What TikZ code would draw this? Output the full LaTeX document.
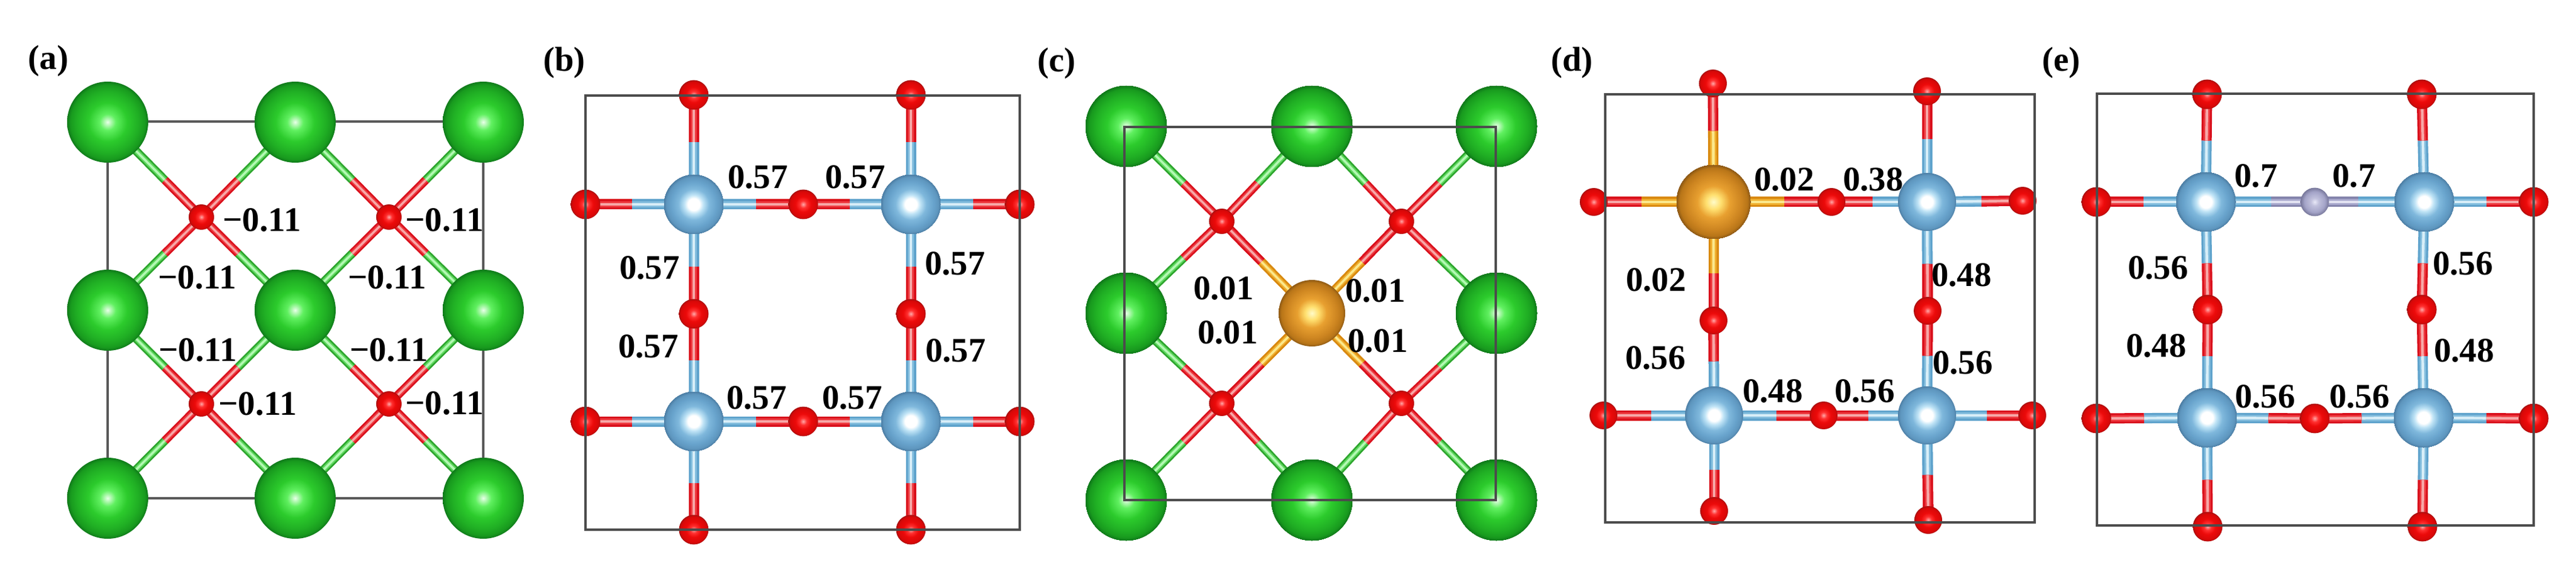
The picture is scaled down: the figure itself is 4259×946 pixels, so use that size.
\documentclass[tikz,border=0pt]{standalone}
\usepackage{fontspec}
\setmainfont{Liberation Serif}
\usetikzlibrary{calc}
\pgfdeclarelayer{bondlayer}
\pgfsetlayers{bondlayer,main}
\definecolor{gD}{HTML}{2DA52D}\definecolor{gM}{HTML}{5FD85F}\definecolor{gL}{HTML}{B4F8B4}
\definecolor{rD}{HTML}{D9101C}\definecolor{rM}{HTML}{EE3A40}\definecolor{rL}{HTML}{F7A8A8}
\definecolor{bD}{HTML}{5FA3CC}\definecolor{bM}{HTML}{84BEDE}\definecolor{bL}{HTML}{D8EEF8}
\definecolor{oD}{HTML}{D98A10}\definecolor{oM}{HTML}{F0B030}\definecolor{oL}{HTML}{FBE88C}
\definecolor{sD}{HTML}{8484AC}\definecolor{sM}{HTML}{A8A8CC}\definecolor{sL}{HTML}{E2E2F2}
\definecolor{gbA}{HTML}{E8FFE8}\definecolor{gbB}{HTML}{60F060}\definecolor{gbC}{HTML}{2CCB2C}\definecolor{gbD}{HTML}{20AF24}\definecolor{gbE}{HTML}{189A1E}\definecolor{gbF}{HTML}{0F7A1A}
\definecolor{rbA}{HTML}{FFA8A8}\definecolor{rbB}{HTML}{FF3030}\definecolor{rbC}{HTML}{EC0A0A}\definecolor{rbD}{HTML}{D80808}\definecolor{rbE}{HTML}{A81010}
\definecolor{tbB}{HTML}{C0E4F6}\definecolor{tbC}{HTML}{7FB8DC}\definecolor{tbD}{HTML}{68A3CC}\definecolor{tbE}{HTML}{5E96BE}\definecolor{tbF}{HTML}{4D7FA6}
\definecolor{obA}{HTML}{FFFBC8}\definecolor{obB}{HTML}{FFE070}\definecolor{obC}{HTML}{E8A030}\definecolor{obD}{HTML}{CC8420}\definecolor{obE}{HTML}{B87518}\definecolor{obF}{HTML}{8F5A14}
\definecolor{sbA}{HTML}{E8E8F8}\definecolor{sbB}{HTML}{C0C0DC}\definecolor{sbC}{HTML}{A4A4C8}\definecolor{sbD}{HTML}{77779A}
\pgfdeclareradialshading{greenball}{\pgfpoint{0bp}{0bp}}{color(0bp)=(gbA);color(5bp)=(gbB);color(12bp)=(gbC);color(19bp)=(gbD);color(23bp)=(gbE);color(25bp)=(gbF);color(50bp)=(gbF)}
\pgfdeclareradialshading{redball}{\pgfpoint{0bp}{0bp}}{color(0bp)=(rbA);color(6bp)=(rbB);color(13bp)=(rbC);color(22bp)=(rbD);color(25bp)=(rbE);color(50bp)=(rbE)}
\pgfdeclareradialshading{tiball}{\pgfpoint{0bp}{0bp}}{color(0bp)=(white);color(5bp)=(white);color(8bp)=(tbB);color(13bp)=(tbC);color(19bp)=(tbD);color(23bp)=(tbE);color(25bp)=(tbF);color(50bp)=(tbF)}
\pgfdeclareradialshading{oranball}{\pgfpoint{0bp}{0bp}}{color(0bp)=(obA);color(5bp)=(obB);color(11bp)=(obC);color(19bp)=(obD);color(23bp)=(obE);color(25bp)=(obF);color(50bp)=(obF)}
\pgfdeclareradialshading{greyball}{\pgfpoint{0bp}{0bp}}{color(0bp)=(sbA);color(7bp)=(sbB);color(18bp)=(sbC);color(25bp)=(sbD);color(50bp)=(sbD)}
\tikzset{
  x=0.5pt,y=-0.5pt,
  atom/.style={circle,inner sep=0pt,outer sep=0pt,shade},
  caatom/.style={atom,shading=greenball,minimum size=67pt},
  oxatoma/.style={atom,shading=redball,minimum size=21pt},
  oxatomb/.style={atom,shading=redball,minimum size=24.5pt},
  tiatom/.style={atom,shading=tiball,minimum size=49pt},
  featom/.style={atom,shading=oranball,minimum size=#1},
  vacatom/.style={atom,shading=greyball,minimum size=23.5pt},
  cellback/.style={draw=black!65,line width=2pt},
  cellfront/.style={draw=black!70,line width=1.8pt},
  val/.style={font=\bfseries\fontsize{28.5pt}{28.5pt}\selectfont,inner sep=0pt,text=black},
}
\newcommand\halfb[4]{%
  \draw[line width=#4*0.5pt,color=#3D] (#1) -- (#2);
  \draw[line width=#4*0.3pt,color=#3M] (#1) -- (#2);
  \draw[line width=#4*0.13pt,color=#3L] (#1) -- (#2);}
% bond: first node, second node, share of the first colour, colours, width
\newcommand\bond[6]{%
  \begin{pgfonlayer}{bondlayer}
    \coordinate (tmpm) at ($(#1.center)!#3!(#2.center)$);
    \halfb{#1.center}{tmpm}{#4}{#6}
    \halfb{tmpm}{#2.center}{#5}{#6}
  \end{pgfonlayer}}
\begin{document}
\begin{tikzpicture}
\begin{pgfonlayer}{bondlayer}
\path[use as bounding box,fill=white] (0,0) rectangle (4259,946);
\draw[cellback] (178,201) rectangle (799,824);
\end{pgfonlayer}
% ---------- (a)
\foreach \n/\x/\y in {aG11/178/202,aG12/488/202,aG13/799/202,aG21/178/513,aG22/488/513,aG23/799/513,aG31/178/824,aG32/488/824,aG33/799/824}
  \node[caatom] (\n) at (\x,\y) {};
\foreach \n/\x/\y in {aO1/333/359,aO2/643/359,aO3/333/668,aO4/643/668}
  \node[oxatoma] (\n) at (\x,\y) {};
\foreach \a/\b in {aG11/aO1,aG12/aO1,aG21/aO1,aG22/aO1,aG12/aO2,aG13/aO2,aG22/aO2,aG23/aO2,aG21/aO3,aG22/aO3,aG31/aO3,aG32/aO3,aG22/aO4,aG23/aO4,aG32/aO4,aG33/aO4}
  \bond{\a}{\b}{0.61}{g}{r}{14}
% ---------- (b)
\foreach \n/\x/\y in {bT1/1147/338,bT2/1506/338,bT3/1147/697,bT4/1506/697}
  \node[tiatom] (\n) at (\x,\y) {};
\foreach \n/\x/\y in {bO1/1147/157,bO2/1506/157,bO3/968/338,bO4/1328/338,bO5/1686/338,bO6/1147/519,bO7/1506/519,bO8/968/697,bO9/1328/697,bO10/1686/697,bO11/1147/876,bO12/1506/876}
  \node[oxatomb] (\n) at (\x,\y) {};
\foreach \a/\b in {bT1/bO1,bT1/bO3,bT1/bO4,bT1/bO6,bT2/bO2,bT2/bO4,bT2/bO5,bT2/bO7,bT3/bO6,bT3/bO8,bT3/bO9,bT3/bO11,bT4/bO7,bT4/bO9,bT4/bO10,bT4/bO12}
  \bond{\a}{\b}{0.57}{b}{r}{17}
% ---------- (c)
\foreach \n/\x/\y in {cG11/1862/209,cG12/2169/209,cG13/2474/209,cG21/1862/518,cG23/2474/518,cG31/1862/827,cG32/2169/827,cG33/2474/827}
  \node[caatom] (\n) at (\x,\y) {};
\node[featom=55pt] (cF) at (2169,518) {};
\foreach \n/\x/\y in {cO1/2020/366,cO2/2317/366,cO3/2020/667,cO4/2317/667}
  \node[oxatoma] (\n) at (\x,\y) {};
\foreach \a/\b in {cG11/cO1,cG12/cO1,cG21/cO1,cG12/cO2,cG13/cO2,cG23/cO2,cG21/cO3,cG31/cO3,cG32/cO3,cG23/cO4,cG32/cO4,cG33/cO4}
  \bond{\a}{\b}{0.60}{g}{r}{14}
\foreach \b in {cO1,cO2,cO3,cO4}
  \bond{cF}{\b}{0.56}{o}{r}{14}
% ---------- (d)
\node[featom=61pt] (dF) at (2833,334) {};
\foreach \n/\x/\y in {dT2/3186/334,dT3/2834/687,dT4/3186/687}
  \node[tiatom,minimum size=48pt] (\n) at (\x,\y) {};
\foreach \n/\x/\y in {dO1/2832/138,dO2/3186/151,dO3/2635/334,dO4/3028/334,dO5/3344/332,dO6/2833/530,dO7/3187/514,dO8/2651/687,dO9/3015/687,dO10/3360/687,dO11/2834/845,dO12/3188/860}
  \node[oxatomb,minimum size=23pt] (\n) at (\x,\y) {};
\foreach \b in {dO1,dO3,dO4,dO6}
  \bond{dF}{\b}{0.60}{o}{r}{17}
\foreach \a/\b in {dT2/dO2,dT2/dO4,dT2/dO5,dT2/dO7,dT3/dO6,dT3/dO8,dT3/dO9,dT3/dO11,dT4/dO7,dT4/dO9,dT4/dO10,dT4/dO12}
  \bond{\a}{\b}{0.57}{b}{r}{17}
% ---------- (e)
\foreach \n/\x/\y in {eT1/3647/334,eT2/4008/334,eT3/3649/691,eT4/4007/691}
  \node[tiatom] (\n) at (\x,\y) {};
\node[vacatom] (eV) at (3827,334) {};
\foreach \n/\x/\y in {eO1/3649/156,eO2/4004/156,eO3/3466/334,eO5/4189/334,eO6/3650/512,eO7/4004/512,eO8/3466/692,eO9/3827/692,eO10/4189/692,eO11/3650/871,eO12/4005/871}
  \node[oxatomb] (\n) at (\x,\y) {};
\foreach \a/\b in {eT1/eO1,eT1/eO3,eT1/eO6,eT2/eO2,eT2/eO5,eT2/eO7,eT3/eO6,eT3/eO8,eT3/eO9,eT3/eO11,eT4/eO7,eT4/eO9,eT4/eO10,eT4/eO12}
  \bond{\a}{\b}{0.57}{b}{r}{17}
\foreach \a in {eT1,eT2}
  \bond{\a}{eV}{0.60}{b}{s}{17}
% ---------- unit cells drawn over the atoms
\draw[cellfront] (968,158) rectangle (1686,876);
\draw[cellfront] (1859,210) rectangle (2473,827);
\draw[cellfront] (2654,156) rectangle (3364,864);
\draw[cellfront] (3467,155) rectangle (4189,869);
% ---------- labels
\foreach \n/\x/\y/\t in {
  la/80/101/(a),lb/933/104/(b),lc/1747/105/(c),ld/2599/104/(d),le/3408/104/(e),
  a1/433/364/−0.11,a2/735/364/−0.11,a3/326/459/−0.11,a4/640/459/−0.11,
  a5/327/579/−0.11,a6/643/579/−0.11,a7/426/668/−0.11,a8/735/667/−0.11,
  b1/1253/293/0.57,b2/1414/293/0.57,b3/1074/443/0.57,b4/1072/573/0.57,
  b5/1579/436/0.57,b6/1580/580/0.57,b7/1251/658/0.57,b8/1409/658/0.57,
  c1/2023/477/0.01,c2/2030/550/0.01,c3/2274/481/0.01,c4/2278/564/0.01,
  d1/2950/297/0.02,d2/3097/297/0.38,d3/2738/463/0.02,d4/2737/592/0.56,
  d5/3243/455/0.48,d6/3245/600/0.56,d7/2931/647/0.48,d8/3083/647/0.56,
  e1/3730/291/0.7,e2/3892/291/0.7,e3/3568/443/0.56,e4/3565/572/0.48,
  e5/4072/436/0.56,e6/4074/580/0.48,e7/3745/656/0.56,e8/3901/656/0.56}
  \node[val] (\n) at (\x,\y) {\t};
\end{tikzpicture}
\end{document}
